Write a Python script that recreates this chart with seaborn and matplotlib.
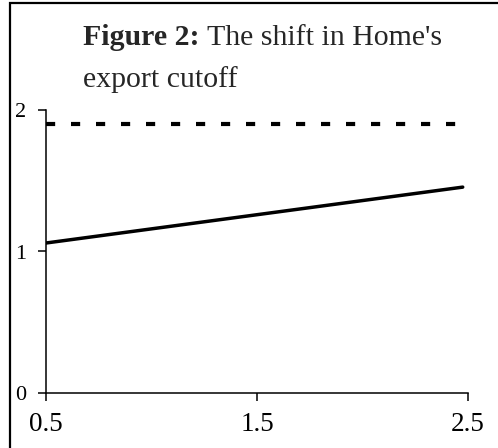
import matplotlib
matplotlib.use("Agg")
import matplotlib.pyplot as plt
from matplotlib.patches import Rectangle
import seaborn as sns
import pandas as pd

# Data
x_vals = [0.5, 1.0, 1.5, 2.0, 2.475]
cutoff_new = [1.06, 1.16, 1.26, 1.36, 1.455]
cutoff_old = [1.9, 1.9, 1.9, 1.9, 1.9]
x_ticks = [0.5, 1.5, 2.5]
x_ticklabels = ["0.5", "1.5", "2.5"]
y_ticks = [0, 1, 2]
y_ticklabels = ["0", "1", "2"]
title_bold = "Figure 2:"
title_rest = " The shift in Home's"
title_line2 = "export cutoff"

sns.set_style("white")
plt.rcParams['font.family'] = ['Liberation Serif', 'DejaVu Serif']

W, H, DPI = 498, 448, 100
fig = plt.figure(figsize=(W / DPI, H / DPI), dpi=DPI)
ax = fig.add_axes([46 / W, 1 - 393 / H, (468 - 46) / W, (393 - 110) / H])

df = pd.DataFrame({"x": x_vals, "new": cutoff_new, "old": cutoff_old})
sns.lineplot(data=df, x="x", y="old", ax=ax, color="black", linewidth=3.0,
             dashes=False)
ax.lines[-1].set_dashes((2.2, 3.8))
sns.lineplot(data=df, x="x", y="new", ax=ax, color="black", linewidth=2.5)

ax.set_xlim(0.5, 2.5)
ax.set_ylim(0, 2)
ax.set_xticks(x_ticks)
ax.set_xticklabels(x_ticklabels, fontsize=19.5)
ax.set_yticks(y_ticks)
ax.set_yticklabels(y_ticklabels, fontsize=16)
ax.set_xlabel("")
ax.set_ylabel("")
ax.tick_params(axis="x", direction="out", length=6, width=1.1, pad=8,
               bottom=True, colors="black")
ax.tick_params(axis="y", direction="out", length=6, width=1.1, pad=8,
               left=True, colors="black")
for s in ["top", "right"]:
    ax.spines[s].set_visible(False)
for s in ["left", "bottom"]:
    ax.spines[s].set_color("black")
    ax.spines[s].set_linewidth(1.1)
ax.set_facecolor("white")

# Figure border (left & top only visible)
fig.patches.append(Rectangle((10 / W, -0.2), 1.3, 0.2 + (1 - 3 / H),
                             transform=fig.transFigure, fill=False,
                             edgecolor="black", linewidth=1.6))

# Title
tx, ty1, ty2 = 83 / W, 1 - 45 / H, 1 - 87 / H
t1 = fig.text(tx, ty1, title_bold, fontsize=21.5, fontweight="bold",
              va="baseline", ha="left")
fig.canvas.draw()
bb = t1.get_window_extent()
fig.text(bb.x1 / W, ty1, title_rest, fontsize=21.5, va="baseline", ha="left")
fig.text(tx, ty2, title_line2, fontsize=21.5, va="baseline", ha="left")

fig.savefig("out.png", dpi=DPI)
